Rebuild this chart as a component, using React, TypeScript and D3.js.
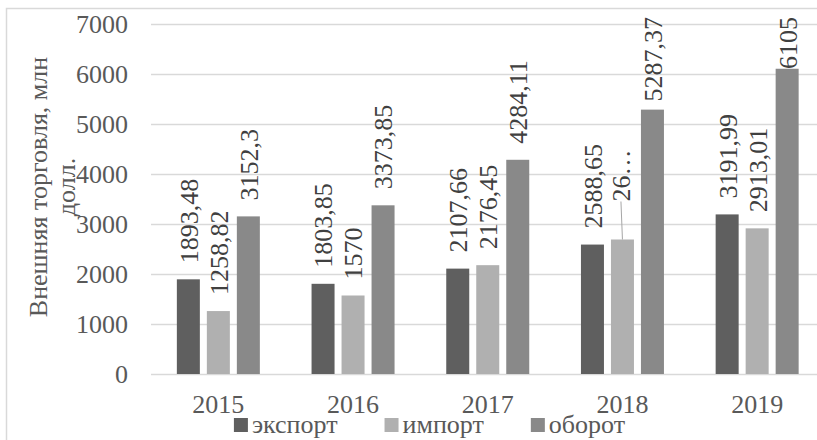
import React, { useEffect, useRef } from "react";
import * as d3 from "d3";

// Foreign trade by year, mln USD
const years = ["2015", "2016", "2017", "2018", "2019"];
const exportValues = [1893.48, 1803.85, 2107.66, 2588.65, 3191.99];
const importValues = [1258.82, 1570, 2176.45, 2690, 2913.01];
const turnoverValues = [3152.3, 3373.85, 4284.11, 5287.37, 6105];
const seriesNames = ["экспорт", "импорт", "оборот"];
const seriesColors = ["#5f5f5f", "#b0b0b0", "#898989"];
const yTicks = [0, 1000, 2000, 3000, 4000, 5000, 6000, 7000];
const yTitleLines = ["Внешняя торговля, млн", "долл."];
// the crowded 2018 import label is shortened and moved up with a leader line
const shortenedLabel = { year: "2018", series: "импорт", text: "26…" };

const W = 817;
const H = 440;
const FONT = '"Liberation Serif", "Times New Roman", Tinos, "DejaVu Serif", serif';
const FS = 26;

export default function App() {
  const ref = useRef<SVGSVGElement>(null);

  useEffect(() => {
    const svg = d3.select(ref.current);
    svg.selectAll("*").remove();

    const plotLeft = 151;
    const plotRight = 824.5;
    const plotTop = 24;
    const plotBottom = 374;

    const x = d3.scaleBand<string>().domain(years).range([plotLeft, plotRight]);
    const xs = d3
      .scaleBand<string>()
      .domain(seriesNames)
      .range([-45, 45])
      .paddingInner(7 / 30)
      .paddingOuter(7 / 60);
    const y = d3.scaleLinear().domain([0, 7000]).range([plotBottom, plotTop]);
    const color = d3.scaleOrdinal<string, string>().domain(seriesNames).range(seriesColors);

    const valuesBySeries = [exportValues, importValues, turnoverValues];
    const bars = years.flatMap((yr, i) =>
      seriesNames.map((s, j) => ({ year: yr, series: s, value: valuesBySeries[j][i] }))
    );

    const addText = (sel: d3.Selection<any, any, any, any>) =>
      sel.append("text").style("font-family", FONT).attr("font-size", FS);

    // chart frame
    svg
      .append("rect")
      .attr("x", 6.5)
      .attr("y", 8.5)
      .attr("width", 900)
      .attr("height", 500)
      .attr("fill", "#fff")
      .attr("stroke", "#d9d9d9")
      .attr("stroke-width", 1.5);

    // gridlines
    svg
      .append("g")
      .selectAll("line")
      .data(yTicks)
      .join("line")
      .attr("x1", plotLeft)
      .attr("x2", plotRight)
      .attr("y1", (d) => Math.round(y(d)) + 0.5)
      .attr("y2", (d) => Math.round(y(d)) + 0.5)
      .attr("stroke", "#d9d9d9")
      .attr("stroke-width", 1.3);

    // y tick labels
    const yAxis = svg.append("g");
    yTicks.forEach((d) => {
      addText(yAxis)
        .attr("x", 128)
        .attr("y", y(d))
        .attr("dy", "0.35em")
        .attr("text-anchor", "end")
        .attr("fill", "#595959")
        .text(String(d));
    });

    // x category labels
    const xAxis = svg.append("g");
    years.forEach((d) => {
      addText(xAxis)
        .attr("x", (x(d) as number) + x.bandwidth() / 2)
        .attr("y", 413)
        .attr("text-anchor", "middle")
        .attr("fill", "#595959")
        .text(d);
    });

    // y axis title
    const title = svg.append("g").attr("transform", "translate(0,187) rotate(-90)");
    yTitleLines.forEach((line, i) => {
      addText(title)
        .attr("x", 0)
        .attr("y", 47 + i * 28)
        .attr("text-anchor", "middle")
        .attr("fill", "#595959")
        .text(line);
    });

    // bars
    const barX = (d: { year: string; series: string }) =>
      (x(d.year) as number) + x.bandwidth() / 2 + (xs(d.series) as number);
    svg
      .append("g")
      .selectAll("rect")
      .data(bars)
      .join("rect")
      .attr("x", (d) => barX(d))
      .attr("y", (d) => y(d.value))
      .attr("width", xs.bandwidth())
      .attr("height", (d) => y(0) - y(d.value))
      .attr("fill", (d) => color(d.series));

    // data labels
    const labels = svg.append("g");
    bars.forEach((d) => {
      const cx = barX(d) + xs.bandwidth() / 2;
      const top = y(d.value);
      const isShort = d.year === shortenedLabel.year && d.series === shortenedLabel.series;
      const txt = isShort ? shortenedLabel.text : String(d.value).replace(".", ",");
      const g = labels.append("g");
      const t = addText(g)
        .attr("text-anchor", "start")
        .attr("dy", "0.36em")
        .attr("fill", "#404040")
        .text(txt);
      const len = (t.node() as SVGTextElement).getComputedTextLength();
      let bottom = top - 16;
      let lx = cx;
      if (isShort) {
        bottom = top - 38;
        lx = cx - 1.5;
        labels
          .append("line")
          .attr("x1", lx)
          .attr("y1", bottom)
          .attr("x2", cx)
          .attr("y2", top)
          .attr("stroke", "#a6a6a6")
          .attr("stroke-width", 1);
      }
      if (bottom - len < 17) bottom = 17 + len;
      g.attr("transform", `translate(${lx},${bottom}) rotate(-90)`);
    });

    // legend
    const legend = svg.append("g");
    const items = seriesNames.map((s) => {
      const g = legend.append("g");
      g.append("rect").attr("width", 14).attr("height", 14).attr("y", 418).attr("fill", color(s));
      const t = addText(g).attr("x", 18).attr("y", 433).attr("fill", "#595959").text(s);
      return { g, w: 18 + (t.node() as SVGTextElement).getComputedTextLength() };
    });
    const gap = 47;
    const total = d3.sum(items, (d) => d.w) + gap * (items.length - 1);
    let cursor = 429.5 - total / 2;
    items.forEach((it) => {
      it.g.attr("transform", `translate(${cursor},0)`);
      cursor += it.w + gap;
    });
  }, []);

  return (
    <svg
      ref={ref}
      width={W}
      height={H}
      style={{ position: "absolute", left: 0, top: 0, background: "#fff" }}
    />
  );
}
